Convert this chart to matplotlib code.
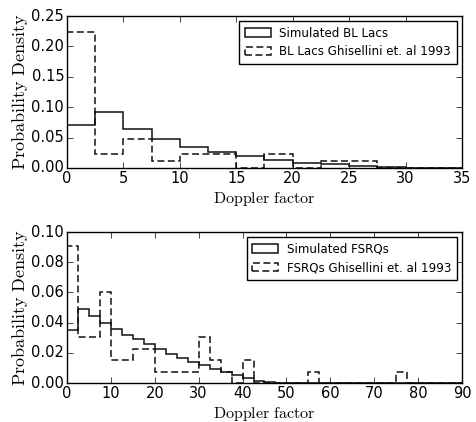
import numpy as np
import matplotlib
matplotlib.use("Agg")
import matplotlib.pyplot as plt

plt.style.use("classic")
plt.rcParams["mathtext.fontset"] = "cm"

# --- BL Lacs (top panel), bin width 2.5
bl_edges = np.arange(0, 37.5, 2.5)
bl_sim = [0.070, 0.0915, 0.0647, 0.047, 0.0345, 0.026, 0.019, 0.013,
          0.0088, 0.006, 0.004, 0.0012, 0.0005, 0.0]
bl_obs = [0.2235, 0.0235, 0.047, 0.0118, 0.0235, 0.0235, 0.0, 0.0235,
          0.0, 0.0118, 0.0118, 0.0, 0.0, 0.0]

# --- FSRQs (bottom panel), bin width 2.5
fs_edges = np.arange(0, 92.5, 2.5)
fs_sim = [0.035, 0.0488, 0.0444, 0.040, 0.0355, 0.0318, 0.0289, 0.0256,
          0.0223, 0.019, 0.0163, 0.0137, 0.0117, 0.009, 0.0071, 0.0053,
          0.0031, 0.0015, 0.0007, 0.0003] + [0.0] * 16
fs_obs = [0.0906, 0.0302, 0.0302, 0.0604, 0.0151, 0.0151, 0.0226, 0.0226,
          0.0075, 0.0075, 0.0075, 0.0075, 0.0302, 0.0151, 0.0075, 0.0,
          0.0151, 0.0, 0.0, 0.0, 0.0, 0.0, 0.0075, 0.0, 0.0, 0.0, 0.0, 0.0,
          0.0, 0.0, 0.0075, 0.0, 0.0, 0.0, 0.0, 0.0]

fig = plt.figure(figsize=(4.77, 4.22), dpi=100, facecolor="white")
ax1 = fig.add_axes([0.1405, 0.602, 0.828, 0.360])
ax2 = fig.add_axes([0.1405, 0.0924, 0.828, 0.3576])


def panel(ax, edges, sim, obs, lab_sim, lab_obs, xmax, ymax, ystep):
    mids = 0.5 * (edges[:-1] + edges[1:])
    ax.hist(mids, bins=edges, weights=sim, histtype="step", color="#111111",
            lw=1.1, label=lab_sim)
    ax.hist(mids, bins=edges, weights=obs, histtype="step", color="#111111",
            lw=1.1, linestyle=(0, (5, 2.5)), label=lab_obs)
    ax.set_xlim(0, xmax)
    ax.set_ylim(0, ymax)
    ax.set_yticks(np.arange(0, ymax + ystep / 2, ystep))
    ax.set_xlabel(r"$\mathrm{Doppler\ factor}$", fontsize=11.5, labelpad=3)
    ax.set_ylabel(r"$\mathrm{Probability\ Density}$", fontsize=13, labelpad=1)
    ax.tick_params(labelsize=10.5, pad=2)
    ax.yaxis.set_major_formatter(matplotlib.ticker.FormatStrFormatter("%.2f"))
    ax.legend(loc="upper right", fontsize=8.6, handlelength=2.2,
              handletextpad=0.7, borderaxespad=0.45, borderpad=0.45,
              labelspacing=0.45, frameon=True, fancybox=False)


panel(ax1, bl_edges, bl_sim, bl_obs, "Simulated BL Lacs",
      "BL Lacs Ghisellini et. al 1993", 35, 0.25, 0.05)
panel(ax2, fs_edges, fs_sim, fs_obs, "Simulated FSRQs",
      "FSRQs Ghisellini et. al 1993", 90, 0.10, 0.02)

fig.savefig("out.png", dpi=100, facecolor="white")
